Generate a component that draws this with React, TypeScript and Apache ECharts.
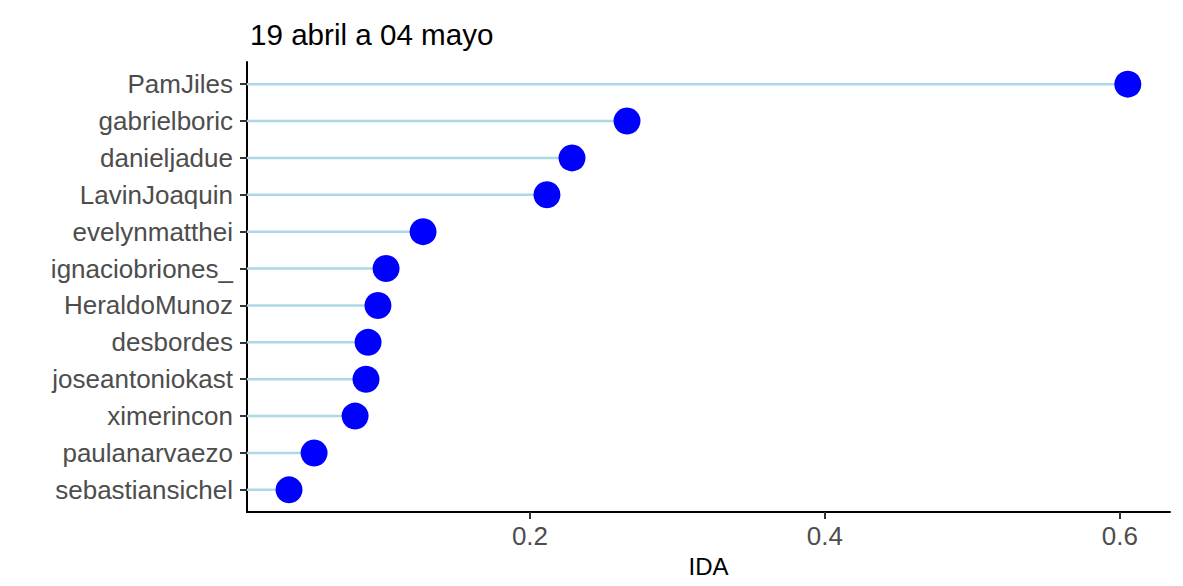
import React, { useEffect, useRef } from "react";
import * as echarts from "echarts";

const names = [
  "PamJiles",
  "gabrielboric",
  "danieljadue",
  "LavinJoaquin",
  "evelynmatthei",
  "ignaciobriones_",
  "HeraldoMunoz",
  "desbordes",
  "joseantoniokast",
  "ximerincon",
  "paulanarvaezo",
  "sebastiansichel",
];
const ida = [0.6054, 0.2658, 0.2285, 0.2115, 0.1275, 0.1024, 0.0969, 0.0902, 0.0888, 0.0814, 0.0536, 0.0366];
const xTicks = [0.2, 0.4, 0.6];
const titleText = "19 abril a 04 mayo";
const xName = "IDA";

export default function App() {
  const ref = useRef<HTMLDivElement>(null);
  useEffect(() => {
    if (!ref.current) return;
    const chart = echarts.init(ref.current, undefined, { renderer: "svg" });
    const rows = names.map((_, i) => i);
    const data = ida.map((v, i) => [v, i]);
    const font = "'Liberation Sans', Arial, Helvetica, sans-serif";
    chart.setOption({
      animation: false,
      backgroundColor: "#ffffff",
      title: {
        text: titleText,
        left: 242,
        top: 11,
        padding: 0,
        textStyle: { fontFamily: font, fontSize: 29.6, fontWeight: "normal", color: "#000000" },
      },
      grid: { left: 239, right: 13, top: 54, bottom: 74 },
      xAxis: {
        type: "value",
        min: 0.0081,
        max: 0.634,
        name: xName,
        nameLocation: "middle",
        nameGap: 42,
        nameTextStyle: { fontFamily: font, fontSize: 24, color: "#000000" },
        axisLine: { onZero: false, lineStyle: { color: "#000000", width: 2 } },
        axisTick: { show: true, customValues: xTicks, length: 7, lineStyle: { color: "#333333", width: 2 } },
        axisLabel: {
          customValues: xTicks,
          margin: 11,
          fontFamily: font,
          fontSize: 26,
          color: "#4D4D4D",
          formatter: (v: number) => v.toFixed(1),
        },
        splitLine: { show: false },
      },
      yAxis: {
        type: "value",
        inverse: true,
        min: -0.6,
        max: 11.6,
        axisLine: { show: true, onZero: false, lineStyle: { color: "#000000", width: 2 } },
        axisTick: { show: true, customValues: rows, length: 7, lineStyle: { color: "#333333", width: 2 } },
        axisLabel: {
          customValues: rows,
          margin: 14,
          fontFamily: font,
          fontSize: 26,
          color: "#4D4D4D",
          formatter: (v: number) => names[Math.round(v)] ?? "",
        },
        splitLine: { show: false },
      },
      series: [
        {
          type: "custom",
          clip: true,
          data,
          encode: { x: 0, y: 1 },
          renderItem: (params: any, api: any) => {
            const v = api.value(0);
            const i = api.value(1);
            const s = api.coord([0, i]);
            const e = api.coord([v, i]);
            return {
              type: "line",
              shape: { x1: s[0], y1: s[1], x2: e[0], y2: e[1] },
              style: { stroke: "#ADD8E6", lineWidth: 2.5 },
            };
          },
          z: 1,
        },
        {
          type: "scatter",
          data,
          symbol: "circle",
          symbolSize: 27,
          itemStyle: { color: "#0000FF", opacity: 1 },
          z: 2,
        },
      ],
    });
    return () => chart.dispose();
  }, []);
  return (
    <div
      ref={ref}
      style={{ width: 1175, height: 578, boxShadow: "0 0 7px rgba(0,0,0,0.3)", background: "#fff" }}
    />
  );
}
